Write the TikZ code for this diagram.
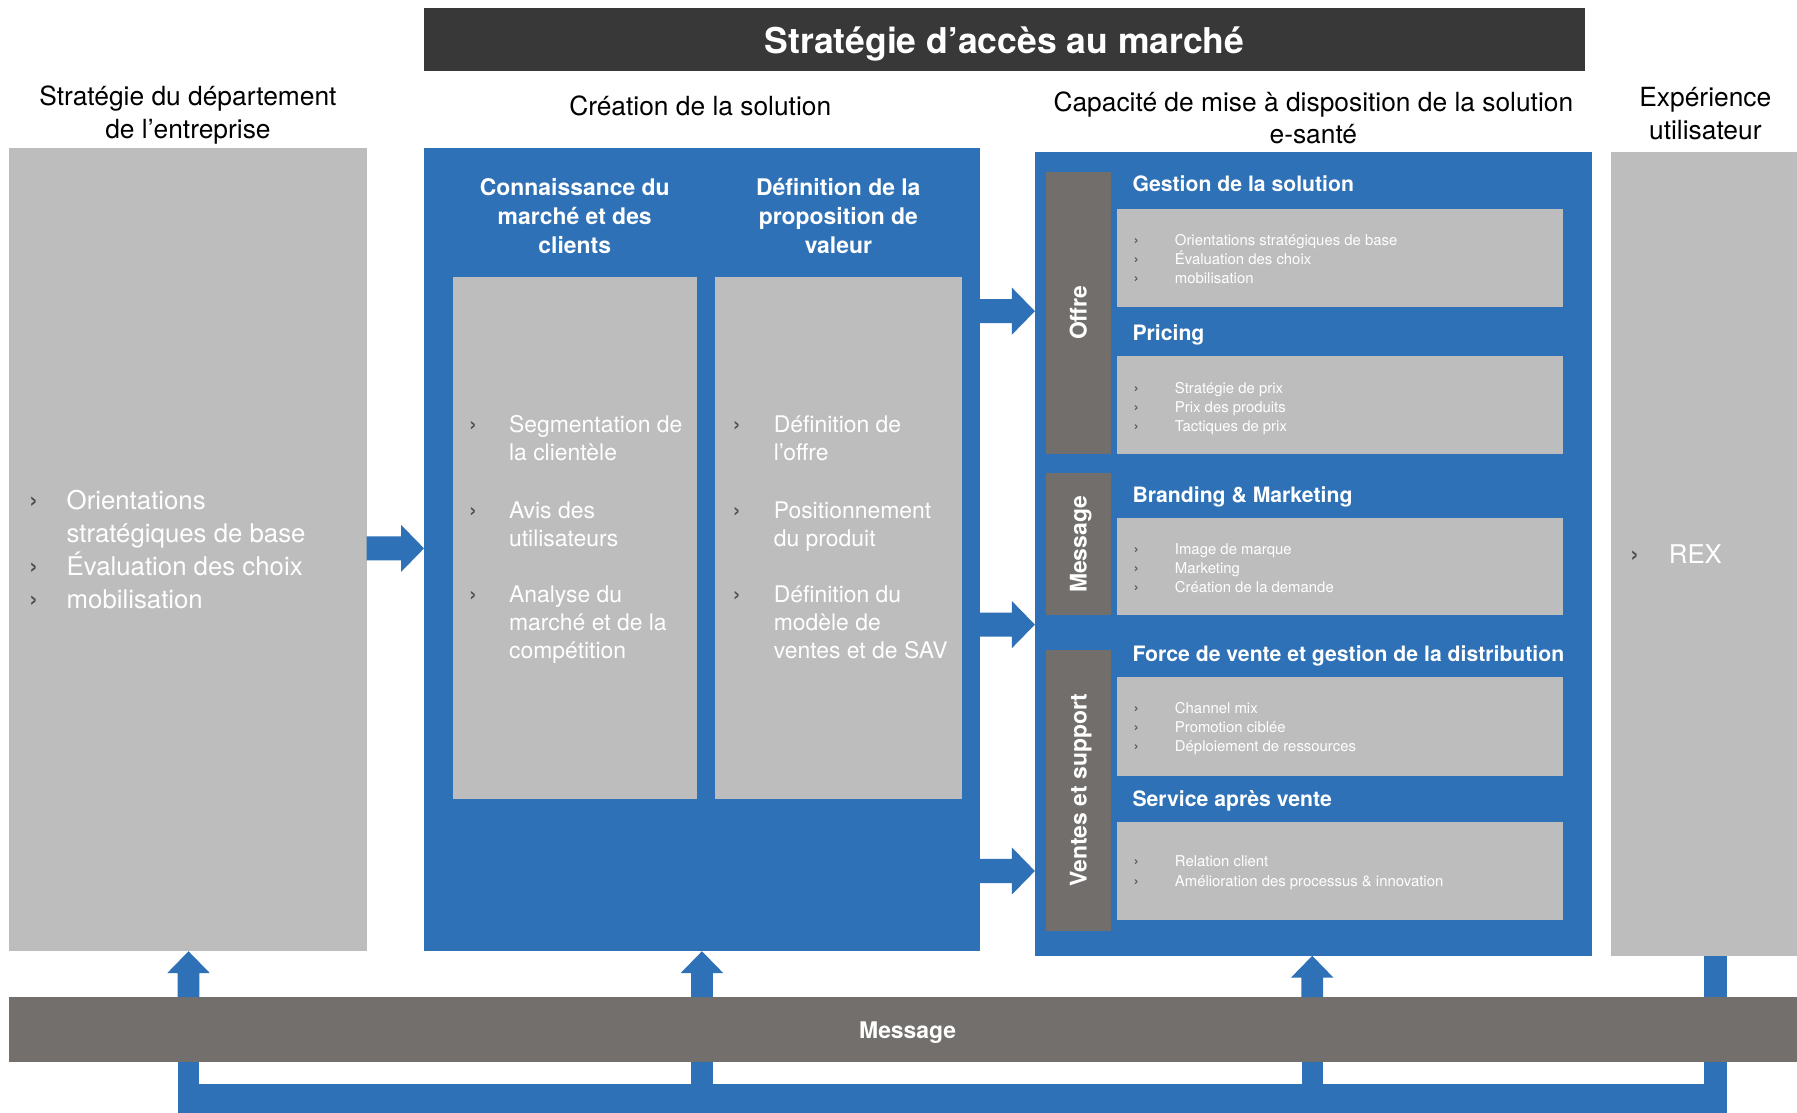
\documentclass[tikz,border=0pt]{standalone}
\usepackage{fontspec}
\setmainfont{TeX Gyre Heros}
\usetikzlibrary{calc}
\definecolor{bblue}{RGB}{46,113,182}
\definecolor{lgray}{RGB}{189,189,189}
\definecolor{tgray}{RGB}{114,110,108}
\definecolor{mgray}{RGB}{115,111,109}
\definecolor{dgray}{RGB}{56,56,56}
\definecolor{bulc}{RGB}{75,75,75}
\newcommand\blockright[3]{%
 \fill[bblue] let \p1=(#1.east |- 0,#3), \p2=(#2.west |- 0,#3) in
 (\x1,\y1+10.5pt) -- (\x2-20pt,\y1+10.5pt) -- (\x2-20pt,\y1+20.5pt) -- (\x2,\y1)
 -- (\x2-20pt,\y1-20.5pt) -- (\x2-20pt,\y1-10.5pt) -- (\x1,\y1-10.5pt) -- cycle;}
\newcommand\blockup[3]{%
 \fill[bblue] let \p1=(#1.north -| #3,0), \p2=(#2.south -| #3,0) in
 (\x1-9.5pt,\y1) -- (\x1-9.5pt,\y2-19pt) -- (\x1-18.5pt,\y2-19pt) -- (\x1,\y2)
 -- (\x1+18.5pt,\y2-19pt) -- (\x1+9.5pt,\y2-19pt) -- (\x1+9.5pt,\y1) -- cycle;}
\begin{document}
\begin{tikzpicture}[x=1pt,y=-1pt,
 rect/.style={inner sep=0pt, outer sep=0pt, anchor=north west, draw=none},
 hdr/.style={font=\fontsize{23}{28.5}\selectfont, align=center, inner sep=0pt, anchor=base, text=black},
 big/.style={font=\fontsize{22.5}{28.7}\selectfont, align=left, inner sep=0pt, anchor=base west, text=white},
 bigb/.style={font=\fontsize{25}{28.7}\selectfont, inner sep=0pt, anchor=base west, text=bulc},
 mid/.style={font=\fontsize{20}{24.7}\selectfont, align=left, inner sep=0pt, anchor=base west, text=white},
 midb/.style={font=\fontsize{22}{24.7}\selectfont, inner sep=0pt, anchor=base west, text=bulc},
 sml/.style={font=\fontsize{13}{16.6}\selectfont, align=left, inner sep=0pt, anchor=base west, text=white},
 smlb/.style={font=\fontsize{14}{16.6}\selectfont, align=left, inner sep=0pt, anchor=base west, text=bulc},
 colhdr/.style={font=\bfseries\fontsize{20}{25}\selectfont, align=center, inner sep=0pt, anchor=base, text=white},
 sechdr/.style={font=\bfseries\fontsize{18.5}{22}\selectfont, inner sep=0pt, anchor=base west, text=white},
 tabtxt/.style={font=\bfseries\fontsize{20}{24}\selectfont, inner sep=0pt, text=white, rotate=90, text height=14.4pt, text depth=0pt},
]
\useasboundingbox (0,0) rectangle (1568,971);
\fill[white] (0,0) rectangle (1568,971);

% feedback loop (behind the message bar)
\node[rect, fill=lgray, minimum width=162pt, minimum height=701pt] (rex) at (1406,133) {};
\fill[bblue] (rex.south -| 1487,0) rectangle (1507,971);
\fill[bblue] (155,946) rectangle (1507,971);

% panels
\node[rect, fill=dgray, minimum width=1013pt, minimum height=55pt] (ttlbar) at (370,7) {};
\node[rect, fill=lgray, minimum width=312pt, minimum height=701pt] (strat) at (8,129) {};
\node[rect, fill=bblue, minimum width=485pt, minimum height=701pt] (crea) at (370,129) {};
\node[rect, fill=lgray, minimum width=213pt, minimum height=455pt] (g1) at (395,242) {};
\node[rect, fill=lgray, minimum width=215pt, minimum height=455pt] (g2) at (624,242) {};
\node[rect, fill=bblue, minimum width=486pt, minimum height=701pt] (cap) at (903,133) {};
\node[rect, fill=tgray, minimum width=56pt, minimum height=246pt] (tab1) at (913,150) {};
\node[rect, fill=tgray, minimum width=56pt, minimum height=124pt] (tab2) at (913,413) {};
\node[rect, fill=tgray, minimum width=56pt, minimum height=245pt] (tab3) at (913,567) {};
\node[rect, fill=lgray, minimum width=389pt, minimum height=86pt] (s1) at (975,182) {};
\node[rect, fill=lgray, minimum width=389pt, minimum height=85pt] (s2) at (975,311) {};
\node[rect, fill=lgray, minimum width=389pt, minimum height=85pt] (s3) at (975,452) {};
\node[rect, fill=lgray, minimum width=389pt, minimum height=86pt] (s4) at (975,591) {};
\node[rect, fill=lgray, minimum width=389pt, minimum height=86pt] (s5) at (975,717) {};
\node[rect, fill=mgray, minimum width=1560pt, minimum height=57pt] (msg) at (8,870) {};

% lower links from message bar into the loop
\fill[bblue] (msg.south -| 155,0) rectangle (174,946);
\fill[bblue] (msg.south -| 603,0) rectangle (622,946);
\fill[bblue] (msg.south -| 1136,0) rectangle (1154,946);

% block arrows
\blockright{strat}{crea}{478.5}
\blockright{crea}{cap}{271.5}
\blockright{crea}{cap}{545}
\blockright{crea}{cap}{760}
\blockup{msg}{strat}{164.5}
\blockup{msg}{crea}{612.5}
\blockup{msg}{cap}{1145}

% title and headers (multi-line nodes: base = last line)
\node[font=\bfseries\fontsize{31}{36}\selectfont, text=white, inner sep=0pt, anchor=base] (ttl) at (876.5,46.5) {Stratégie d’accès au marché};
\node[hdr] (hstrat) at (164,120.5) {Stratégie du département\\de l’entreprise};
\node[hdr] (hcrea) at (611,101) {Création de la solution};
\node[hdr] (hcap) at (1146,125.5) {Capacité de mise à disposition de la solution\\e-santé};
\node[hdr] (hexp) at (1488,121.5) {Expérience\\utilisateur};

% left panel
\node[big] (st1) at (58,530.6) {Orientations\\stratégiques de base\\Évaluation des choix\\mobilisation};
\node[bigb] (sb1) at (25,444.5) {›};
\node[bigb] (sb2) at (25,501.9) {›};
\node[bigb] (sb3) at (25,530.6) {›};

% creation columns
\node[colhdr] (ch1) at (501.5,221) {Connaissance du\\marché et des\\clients};
\node[colhdr] (ch2) at (731.5,221) {Définition de la\\proposition de\\valeur};
\node[mid] (c1a) at (444,402.2) {Segmentation de\\la clientèle};
\node[mid] (c1b) at (444,477.2) {Avis des\\utilisateurs};
\node[mid] (c1c) at (444,574.9) {Analyse du\\marché et de la\\compétition};
\node[midb] (c1ab) at (409,377.5) {›};
\node[midb] (c1bb) at (409,452.5) {›};
\node[midb] (c1cb) at (409,525.5) {›};
\node[mid] (c2a) at (675,402.2) {Définition de\\l’offre};
\node[mid] (c2b) at (675,477.2) {Positionnement\\du produit};
\node[mid] (c2c) at (675,574.9) {Définition du\\modèle de\\ventes et de SAV};
\node[midb] (c2ab) at (639,377.5) {›};
\node[midb] (c2bb) at (639,452.5) {›};
\node[midb] (c2cb) at (639,525.5) {›};

% capacity panel
\node[tabtxt] (tt1) at (tab1.center) {Offre};
\node[tabtxt] (tt2) at (tab2.center) {Message};
\node[tabtxt] (tt3) at (tab3.center) {Ventes et support};
\node[sechdr] (sh1) at (988,167.5) {Gestion de la solution};
\node[sechdr] (sh2) at (988,297.5) {Pricing};
\node[sechdr] (sh3) at (988,438.5) {Branding \& Marketing};
\node[sechdr] (sh4) at (988,577.5) {Force de vente et gestion de la distribution};
\node[sechdr] (sh5) at (988,703.5) {Service après vente};
\node[sml] (t1) at (1025,247.7) {Orientations stratégiques de base\\Évaluation des choix\\mobilisation};
\node[smlb] (b1) at (989,247.7) {›\\›\\›};
\node[sml] (t2) at (1025,376.7) {Stratégie de prix\\Prix des produits\\Tactiques de prix};
\node[smlb] (b2) at (989,376.7) {›\\›\\›};
\node[sml] (t3) at (1025,516.7) {Image de marque\\Marketing\\Création de la demande};
\node[smlb] (b3) at (989,516.7) {›\\›\\›};
\node[sml] (t4) at (1025,655.7) {Channel mix\\Promotion ciblée\\Déploiement de ressources};
\node[smlb] (b4) at (989,655.7) {›\\›\\›};
\node[sml] (t5) at (1025,773.1) {Relation client\\Amélioration des processus \& innovation};
\node[smlb] (b5) at (989,773.1) {›\\›};

% right panel
\node[bigb] (rb) at (1422,492) {›};
\node[big] (rt) at (1456,492) {REX};

% message bar text
\node[font=\bfseries\fontsize{20}{24}\selectfont, text=white, inner sep=0pt, text height=14.4pt, text depth=0pt] (msgt) at (792,899) {Message};
\end{tikzpicture}
\end{document}
